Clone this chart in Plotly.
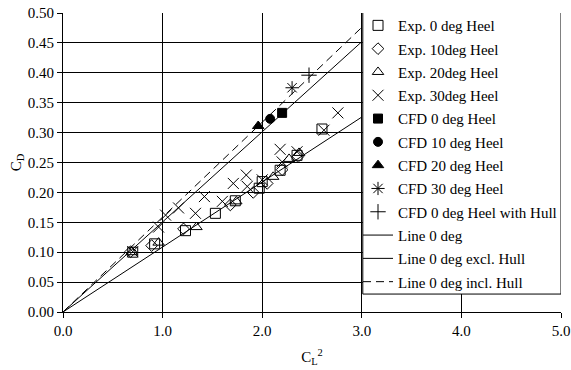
import plotly.graph_objects as go

# Experimental data: CL^2 vs CD
exp0_x = [0.70, 0.92, 1.23, 1.53, 1.73, 1.97, 2.00, 2.18, 2.35, 2.60]
exp0_y = [0.100, 0.114, 0.136, 0.165, 0.186, 0.207, 0.218, 0.237, 0.262, 0.306]

exp10_x = [0.68, 0.89, 1.21, 1.68, 1.91, 2.05, 2.20, 2.36]
exp10_y = [0.101, 0.111, 0.139, 0.179, 0.200, 0.215, 0.238, 0.260]

exp20_x = [0.69, 0.96, 1.34, 1.74, 2.11, 2.27, 2.37]
exp20_y = [0.100, 0.116, 0.142, 0.185, 0.226, 0.256, 0.266]

exp30_x = [0.70, 0.96, 1.03, 1.16, 1.33, 1.42, 1.60, 1.71, 1.84, 1.85,
           2.00, 2.20, 2.18, 2.35, 2.62, 2.76]
exp30_y = [0.101, 0.142, 0.162, 0.174, 0.165, 0.193, 0.185, 0.215, 0.229, 0.210,
           0.221, 0.251, 0.272, 0.268, 0.304, 0.333]

# CFD results
cfd0_x, cfd0_y = [2.20], [0.333]
cfd10_x, cfd10_y = [2.08], [0.323]
cfd20_x, cfd20_y = [1.96], [0.311]
cfd30_x, cfd30_y = [2.30], [0.375]
cfd0hull_x, cfd0hull_y = [2.47], [0.396]

# Trend lines through the origin
line0_x, line0_y = [0.0, 3.0], [0.0, 0.326]
line_excl_x, line_excl_y = [0.0, 3.0], [0.0, 0.452]
line_incl_x, line_incl_y = [0.0, 3.0], [0.0, 0.476]

FONT = "Liberation Serif, Times New Roman, serif"
BLACK = "#000000"

fig = go.Figure()


def markers(x, y, name, symbol, size):
    fig.add_trace(go.Scatter(
        x=x, y=y, name=name, mode="markers", legendgroup=name,
        marker=dict(symbol=symbol, size=size, color=BLACK,
                    line=dict(color=BLACK, width=1)),
    ))


def line(x, y, name, dash="solid"):
    fig.add_trace(go.Scatter(
        x=x, y=y, name=name, mode="lines", legendgroup=name,
        line=dict(color=BLACK, width=1, dash=dash),
    ))


markers(exp0_x, exp0_y, "Exp. 0 deg Heel", "square-open", 10)
markers(exp10_x, exp10_y, "Exp. 10deg Heel", "diamond-open", 9)
markers(exp20_x, exp20_y, "Exp. 20deg Heel", "triangle-up-open", 10)
markers(exp30_x, exp30_y, "Exp. 30deg Heel", "x-thin-open", 11)
markers(cfd0_x, cfd0_y, "CFD 0 deg Heel", "square", 9)
markers(cfd10_x, cfd10_y, "CFD 10 deg Heel", "circle", 9)
markers(cfd20_x, cfd20_y, "CFD 20 deg Heel", "triangle-up", 10)
markers(cfd30_x, cfd30_y, "CFD 30 deg Heel", "asterisk-open", 11)
markers(cfd0hull_x, cfd0hull_y, "CFD 0 deg Heel with Hull", "cross-thin-open", 11)
line(line0_x, line0_y, "Line 0 deg")
line(line_excl_x, line_excl_y, "Line 0 deg excl. Hull")
line(line_incl_x, line_incl_y, "Line 0 deg incl. Hull", dash="8px,5px")

fig.update_layout(
    width=571, height=370,
    margin=dict(l=63, r=10, t=13, b=58, autoexpand=False),
    paper_bgcolor="white", plot_bgcolor="white",
    font=dict(family=FONT, size=15, color=BLACK),
    showlegend=True,
    legend=dict(
        x=0.5924, y=1.013, xanchor="left", yanchor="top",
        bgcolor="rgba(0,0,0,0)", borderwidth=0,
        font=dict(family=FONT, size=15, color=BLACK),
        tracegroupgap=0.8, itemsizing="trace", maxheight=320,
    ),
    # white framed panel behind the legend entries
    shapes=[dict(
        type="rect", xref="x", yref="y", x0=3.01, x1=5.0, y0=0.03, y1=0.502,
        fillcolor="white", line=dict(color=BLACK, width=1), layer="above",
    )],
)

fig.update_xaxes(
    range=[0, 5], tickvals=[0, 1, 2, 3, 4, 5], tickformat=".1f",
    showgrid=True, gridcolor=BLACK, gridwidth=1,
    showline=True, linecolor=BLACK, linewidth=1,
    ticks="outside", ticklen=5, tickcolor=BLACK,
    zeroline=False,
    title=dict(text="C<sub>L</sub><sup>2</sup>", standoff=13,
               font=dict(family=FONT, size=15)),
)
fig.update_yaxes(
    range=[0, 0.5], dtick=0.05, tickformat=".2f",
    showgrid=True, gridcolor=BLACK, gridwidth=1,
    showline=True, linecolor=BLACK, linewidth=1,
    ticks="outside", ticklen=5, tickcolor=BLACK,
    zeroline=False,
    title=dict(text="C<sub>D</sub>", standoff=2,
               font=dict(family=FONT, size=15)),
)

fig.write_html("out.html")
